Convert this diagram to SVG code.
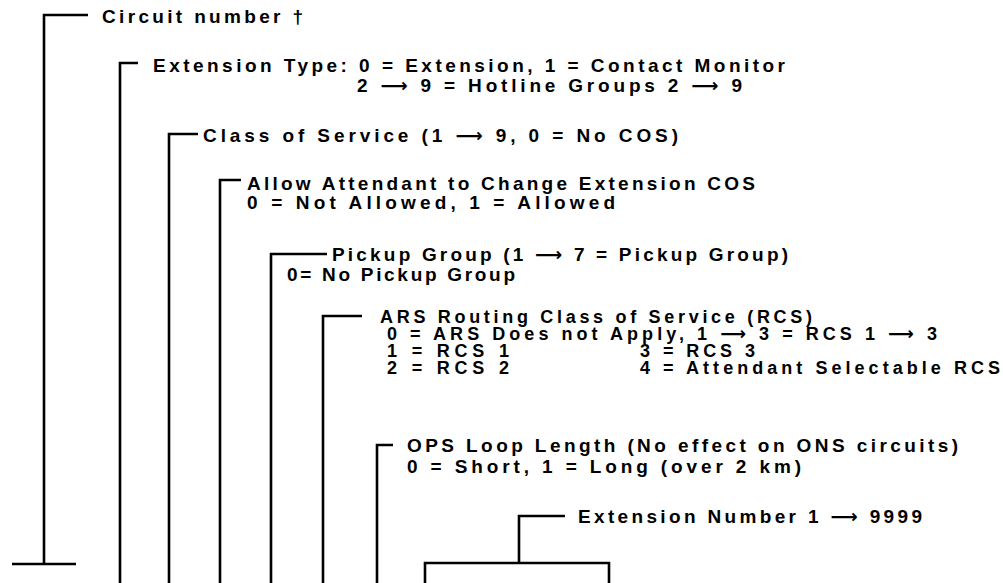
<svg xmlns="http://www.w3.org/2000/svg" width="1003" height="583" viewBox="0 0 1003 583">
<style>
.t{font-family:"Liberation Sans",Arial,sans-serif;font-weight:bold;font-size:19px;fill:#000}
.s{font-size:18px}
.a{font-family:"DejaVu Sans",sans-serif;font-weight:bold}
.c{stroke:#000;stroke-width:2.6;fill:none;stroke-linecap:butt}
</style>
<rect width="1003" height="583" fill="#fff"/>
<g id="connectors">
<path class="c" d="M12 564H76M44 564V15H88"/>
<path class="c" d="M120 583V63H138"/>
<path class="c" d="M169 583V134H198"/>
<path class="c" d="M220 583V180H241"/>
<path class="c" d="M271 583V254H327"/>
<path class="c" d="M323 583V316H362"/>
<path class="c" d="M377 583V445H393"/>
<path class="c" d="M565 516H519V563M425 583V563H609V583"/>
</g>
<g id="circuit-number"><text class="t" x="102" y="23" textLength="201" lengthAdjust="spacing">Circuit number †</text></g>
<g id="extension-type">
<text class="t" x="153" y="71.5" textLength="632" lengthAdjust="spacing">Extension Type: 0 = Extension, 1 = Contact Monitor</text>
<text class="t" x="357" y="92" textLength="385" lengthAdjust="spacing">2 <tspan class="a">⟶</tspan> 9 = Hotline Groups 2 <tspan class="a">⟶</tspan> 9</text>
</g>
<g id="class-of-service"><text class="t" x="203" y="142" textLength="475" lengthAdjust="spacing">Class of Service (1 <tspan class="a">⟶</tspan> 9, 0 = No COS)</text></g>
<g id="allow-attendant">
<text class="t" x="247" y="190" textLength="508" lengthAdjust="spacing">Allow Attendant to Change Extension COS</text>
<text class="t" x="247" y="209" textLength="368" lengthAdjust="spacing">0 = Not Allowed, 1 = Allowed</text>
</g>
<g id="pickup-group">
<text class="t" x="332" y="261" textLength="456" lengthAdjust="spacing">Pickup Group (1 <tspan class="a">⟶</tspan> 7 = Pickup Group)</text>
<text class="t" x="287" y="281" textLength="228" lengthAdjust="spacing">0= No Pickup Group</text>
</g>
<g id="ars-rcs">
<text class="t s" x="380" y="322.5" textLength="432" lengthAdjust="spacing">ARS Routing Class of Service (RCS)</text>
<text class="t s" x="387" y="340" textLength="550" lengthAdjust="spacing">0 = ARS Does not Apply, 1 <tspan class="a">⟶</tspan> 3 = RCS 1 <tspan class="a">⟶</tspan> 3</text>
<text class="t s" x="387" y="357" textLength="122" lengthAdjust="spacing">1 = RCS 1</text>
<text class="t s" x="640" y="357" textLength="115" lengthAdjust="spacing">3 = RCS 3</text>
<text class="t s" x="387" y="374" textLength="122" lengthAdjust="spacing">2 = RCS 2</text>
<text class="t s" x="640" y="374" textLength="360" lengthAdjust="spacing">4 = Attendant Selectable RCS</text>
</g>
<g id="ops-loop">
<text class="t" x="407" y="452" textLength="551" lengthAdjust="spacing">OPS Loop Length (No effect on ONS circuits)</text>
<text class="t" x="407" y="473" textLength="394" lengthAdjust="spacing">0 = Short, 1 = Long (over 2 km)</text>
</g>
<g id="extension-number"><text class="t" x="578" y="523" textLength="344" lengthAdjust="spacing">Extension Number  1 <tspan class="a">⟶</tspan> 9999</text></g>
</svg>
